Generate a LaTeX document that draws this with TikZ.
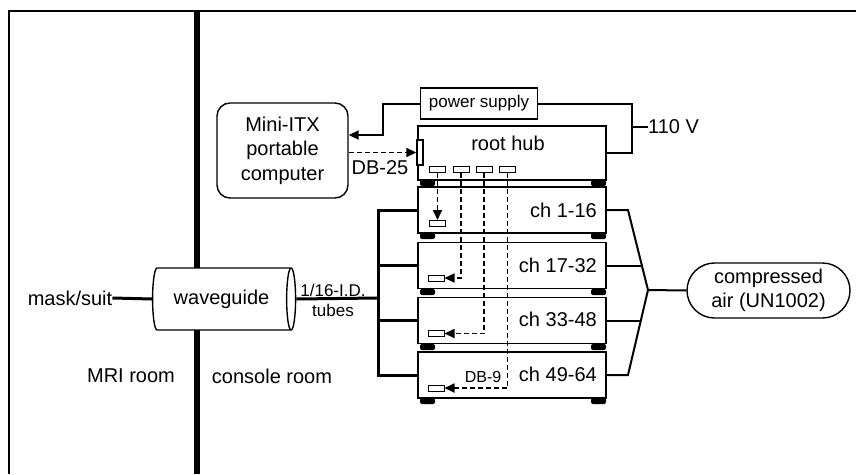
\documentclass[tikz,border=0pt]{standalone}
\usepackage{fontspec}
\setmainfont{Liberation Sans}
\usetikzlibrary{shapes.geometric,shapes.misc,arrows.meta}

\begin{document}
\begin{tikzpicture}[x=1pt,y=-1pt,
    every node/.style={font=\fontsize{20}{24.5}\selectfont,inner sep=0pt,align=center},
    small/.style={font=\fontsize{17}{20}\selectfont},
    unit/.style={draw,fill=white,line width=1.6pt,minimum width=188pt,minimum height=46pt},
    port/.style={draw,fill=white,line width=1pt,minimum width=16pt,minimum height=6pt},
    pipe/.style={line width=2pt},
    bus/.style={line width=3pt},
    link/.style={line width=1.7pt,dash pattern=on 5pt off 3pt,-{Triangle[length=10pt,width=9pt]}}]
  \useasboundingbox (0,0) rectangle (856,474);
  % frame and wall between the rooms
  \draw[line width=2pt] (9,474) -- (9,11) -- (856,11);
  \draw[line width=6pt] (196.5,11) -- (196.5,474);
  \node (mri) at (131,376) {MRI room};
  \node (con) at (272,376) {console room};

  \node (mask) at (70,298) {mask/suit};
  \node[draw,fill=white,shape=cylinder,aspect=0.48,line width=1.4pt,
        minimum width=62pt,minimum height=143pt] (wg) at (221.5,299) {waveguide};
  \node[small] (tubes) at (333,300) {1/16-I.D.\\tubes};

  \node[draw,rounded corners=13pt,line width=1.4pt,minimum width=131pt,minimum height=95pt]
       (pc) at (282.5,150.5) {Mini-ITX\\portable\\computer};
  \node[draw,small,line width=1.6pt,minimum width=117pt,minimum height=31pt] (psu) at (479,103.5) {power supply};
  \node[anchor=west] (volt) at (648,127) {110 V};

  % root hub and channel units
  \node[unit,minimum height=54pt] (hub) at (512,153) {};
  \node (hubtxt) at (508,143) {root hub};
  \node[unit] (ch1) at (512,210) {};
  \node[unit] (ch2) at (512,265.5) {};
  \node[unit] (ch3) at (512,320.5) {};
  \node[unit] (ch4) at (512,375) {};
  \node[anchor=east] (l1) at (597,210) {ch 1-16};
  \node[anchor=east] (l2) at (597,265) {ch 17-32};
  \node[anchor=east] (l3) at (597,319) {ch 33-48};
  \node[anchor=east] (l4) at (597,374) {ch 49-64};

  % feet
  \fill[rounded corners=2pt] (420,180) rectangle (435,186) (591,180) rectangle (606,186);
  \fill[rounded corners=2pt] (420,233) rectangle (435,239) (591,233) rectangle (606,239);
  \fill[rounded corners=2pt] (420,289) rectangle (435,295) (591,289) rectangle (606,295);
  \fill[rounded corners=2pt] (420,344) rectangle (435,350) (591,344) rectangle (606,350);
  \fill[rounded corners=2pt] (420,398) rectangle (435,404) (591,398) rectangle (606,404);

  % connectors
  \node[draw,fill=white,line width=1.4pt,minimum width=6pt,minimum height=25pt] (db) at (420,152.5) {};
  \node (db25) at (380,168) {DB-25};
  \node[port] (p1) at (437.5,169.5) {};
  \node[port] (p2) at (461,169.5) {};
  \node[port] (p3) at (484,169.5) {};
  \node[port] (p4) at (507.5,169.5) {};
  \node[port] (q1) at (437.5,223.5) {};
  \node[port] (q2) at (436,278) {};
  \node[port] (q3) at (436,333.5) {};
  \node[port] (q4) at (436,388) {};
  \node[font=\fontsize{16}{18}\selectfont] (db9) at (483,377) {DB-9};

  \draw[link] (pc.east |- db.west) -- (db.west);
  \draw[link] (p1.south) -- (q1.north);
  \draw[link] (p2.south) |- (q2.east);
  \draw[link] (p3.south) |- (q3.east);
  \draw[link] (p4.south) |- (q4.east);

  % power
  \coordinate (pbend) at (383,135);
  \coordinate (mains) at (632,127);
  \draw[pipe,-{Triangle[length=10pt,width=9pt]}] (psu.west) -| (pbend) -- (pc.east |- pbend);
  \draw[pipe] (psu.east) -| (mains) |- (hub.east);
  \draw[pipe] (mains) -- (volt.west);

  % tubes
  \coordinate (tee) at (378,298);
  \draw[bus] (mask.east) -- (wg.west);
  \draw[bus] (wg.east) -- (tee);
  \draw[bus] (ch1.west) -| (tee) |- (ch4.west);
  \draw[bus] (tee |- ch2.west) -- (ch2.west);
  \draw[bus] (tee |- ch3.west) -- (ch3.west);

  % air supply
  \node[draw,shape=rounded rectangle,line width=1.4pt,minimum width=163pt,minimum height=55pt]
       (air) at (768.5,290.5) {compressed\\air (UN1002)};
  \coordinate (merge) at (648,290);
  \coordinate (m1) at (628,210);
  \coordinate (m2) at (642,265.5);
  \coordinate (m3) at (641,320.5);
  \coordinate (m4) at (628,375);
  \draw[pipe] (ch1.east) -- (m1) -- (merge) -- (m4) -- (ch4.east);
  \draw[pipe] (ch2.east) -- (m2);
  \draw[pipe] (ch3.east) -- (m3);
  \draw[pipe] (merge) -- (air.west);
\end{tikzpicture}
\end{document}
